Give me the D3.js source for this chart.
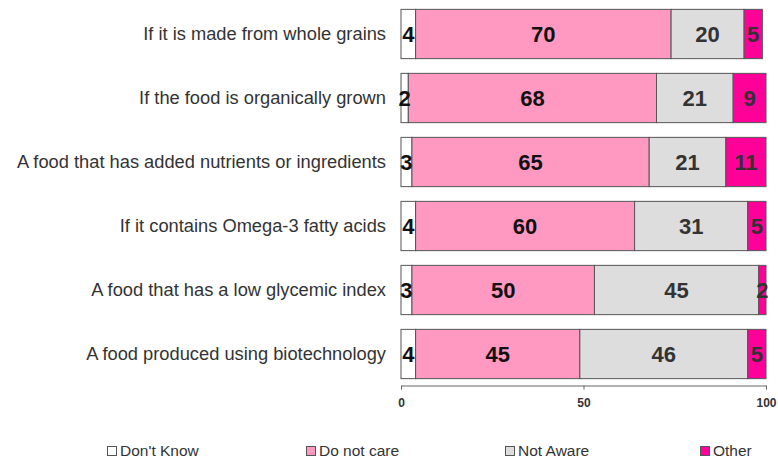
<!DOCTYPE html>
<html lang="en">
<head>
    <meta charset="UTF-8">
    <title>awareness chart</title>
    <style>
        body {
            margin: 0;
            background: white;
        }
        .cat-label {
            font-family: Arial, "Liberation Sans", sans-serif;
            font-size: 18.3px;
            fill: #333;
        }
        .val-label {
            font-family: Arial, "Liberation Sans", sans-serif;
            font-size: 22px;
            font-weight: bold;
        }
        .tick text {
            font-family: Arial, "Liberation Sans", sans-serif;
            font-size: 12px;
            font-weight: bold;
            fill: #333;
        }
        .legend text {
            font-family: Arial, "Liberation Sans", sans-serif;
            font-size: 15.5px;
            fill: #333;
        }
    </style>
    <script src="https://d3js.org/d3.v7.min.js"></script>
</head>
<body>
    <div id="chart"></div>
    <script>
        const categories = [
            'If it is made from whole grains',
            'If the food is organically grown',
            'A food that has added nutrients or ingredients',
            'If it contains Omega-3 fatty acids',
            'A food that has a low glycemic index',
            'A food produced using biotechnology'
        ];
        const seriesNames = ['Don\'t Know', 'Do not care', 'Not Aware', 'Other'];
        const dontKnow = [4, 2, 3, 4, 3, 4];
        const doNotCare = [70, 68, 65, 60, 50, 45];
        const notAware = [20, 21, 21, 31, 45, 46];
        const other = [5, 9, 11, 5, 2, 5];
        const xTicks = [0, 50, 100];

        const colors = ['#ffffff', '#ff99c2', '#dddddd', '#ff0099'];
        const labelColors = ['#111', '#111', '#333', '#333'];

        const width = 778;
        const height = 461;

        const svg = d3.select('#chart')
            .append('svg')
            .attr('width', width)
            .attr('height', height);

        const x = d3.scaleLinear()
            .domain([0, 100])
            .range([401, 766]);

        const y = d3.scaleBand()
            .domain(categories)
            .range([2, 386])
            .paddingInner(0.23)
            .paddingOuter(0.115);

        // build stacked rows
        const table = categories.map((c, i) => ({
            category: c,
            [seriesNames[0]]: dontKnow[i],
            [seriesNames[1]]: doNotCare[i],
            [seriesNames[2]]: notAware[i],
            [seriesNames[3]]: other[i]
        }));
        const stacked = d3.stack().keys(seriesNames)(table);

        const layer = svg.append('g')
            .selectAll('g')
            .data(stacked)
            .join('g')
            .attr('fill', (d, i) => colors[i]);

        layer.selectAll('rect')
            .data(d => d)
            .join('rect')
            .attr('x', d => x(d[0]))
            .attr('y', d => y(d.data.category))
            .attr('width', d => x(d[1]) - x(d[0]))
            .attr('height', y.bandwidth())
            .attr('stroke', '#555')
            .attr('stroke-width', 1);

        // value labels
        stacked.forEach((s, i) => {
            svg.append('g')
                .selectAll('text')
                .data(s)
                .join('text')
                .attr('class', 'val-label')
                .attr('x', d => (x(d[0]) + x(d[1])) / 2)
                .attr('y', d => y(d.data.category) + y.bandwidth() / 2)
                .attr('dy', '0.36em')
                .attr('text-anchor', 'middle')
                .attr('fill', labelColors[i])
                .text(d => d[1] - d[0]);
        });

        // category labels
        svg.append('g')
            .selectAll('text')
            .data(categories)
            .join('text')
            .attr('class', 'cat-label')
            .attr('x', 386)
            .attr('y', d => y(d) + y.bandwidth() / 2)
            .attr('dy', '0.35em')
            .attr('text-anchor', 'end')
            .text(d => d);

        // x axis
        const axis = svg.append('g')
            .attr('transform', 'translate(0,385.5)')
            .call(d3.axisBottom(x).tickValues(xTicks).tickSize(4).tickPadding(9));
        axis.select('.domain').attr('stroke', '#666');
        axis.selectAll('.tick line').attr('stroke', '#666');

        // legend
        const legendX = [107, 306, 505, 700];
        const legend = svg.append('g')
            .attr('class', 'legend')
            .selectAll('g')
            .data(seriesNames)
            .join('g')
            .attr('transform', (d, i) => `translate(${legendX[i]},451)`);

        legend.append('rect')
            .attr('x', 0.5)
            .attr('y', -4.5)
            .attr('width', 9)
            .attr('height', 9)
            .attr('fill', (d, i) => colors[i])
            .attr('stroke', '#555');

        legend.append('text')
            .attr('x', 13)
            .attr('y', 0)
            .attr('dy', '0.35em')
            .text(d => d);
    </script>
</body>
</html>
